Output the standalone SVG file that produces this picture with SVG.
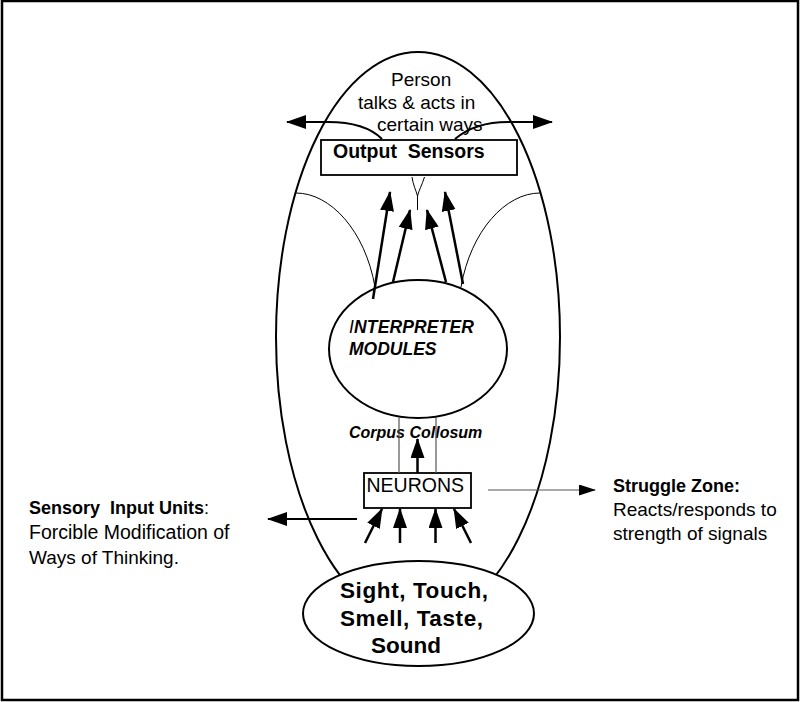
<svg xmlns="http://www.w3.org/2000/svg" width="800" height="702" viewBox="0 0 800 702">
<style>
text{font-family:"Liberation Sans",Arial,sans-serif;fill:#000}
.b{font-weight:bold}
.bi{font-weight:bold;font-style:italic}
.shape{fill:none;stroke:#000;stroke-width:2}
.thin{fill:none;stroke:#000;stroke-width:1}
.gray{fill:none;stroke:#555;stroke-width:1.2}
.arr{fill:none;stroke:#000;stroke-width:2.5}
</style>
<defs>
<marker id="hd" markerUnits="userSpaceOnUse" markerWidth="22" markerHeight="16" refX="19" refY="7" orient="auto"><path d="M0,0 L20,7 L0,14 z" fill="#000"/></marker>
<marker id="hs" markerUnits="userSpaceOnUse" markerWidth="20" markerHeight="14" refX="16" refY="5.5" orient="auto"><path d="M0,0 L17,5.5 L0,11 z" fill="#000"/></marker>
</defs>
<rect x="2" y="1" width="796" height="699" fill="#fff" stroke="#000" stroke-width="2.5"/>
<g id="person">
<ellipse cx="418" cy="337" rx="142" ry="285" class="shape"/>
<text x="391" y="86" font-size="19">Person</text>
<text x="358" y="109" font-size="19">talks &amp; acts in</text>
<text x="377" y="131" font-size="19">certain ways</text>
</g>
<g id="output-sensors">
<rect x="321" y="140" width="196" height="35" fill="#fff" stroke="#000" stroke-width="1.8"/>
<text x="333" y="158" font-size="19.5" class="b" xml:space="preserve">Output  Sensors</text>
</g>
<g id="interpreter">
<ellipse cx="418" cy="349" rx="89" ry="69" class="shape"/>
<text x="349" y="333" font-size="17.5" class="bi" textLength="125"><tspan font-weight="normal">I</tspan>NTERPRETER</text>
<text x="349" y="355" font-size="17.5" class="bi">MODULES</text>
</g>
<g id="neurons">
<rect x="364" y="473" width="107" height="35" fill="#fff" stroke="#000" stroke-width="1.8"/>
<text x="366.5" y="492" font-size="19.5">NEURONS</text>
</g>
<g id="senses">
<ellipse cx="418.5" cy="613.5" rx="115.5" ry="52.5" fill="#fff" stroke="#000" stroke-width="2"/>
<text x="340" y="598" font-size="22.5" class="b" textLength="148" lengthAdjust="spacing">Sight, Touch,</text>
<text x="340" y="626" font-size="22.5" class="b" textLength="143" lengthAdjust="spacing">Smell, Taste,</text>
<text x="371" y="653" font-size="22.5" class="b">Sound</text>
</g>
<g id="labels">
<text x="349" y="438" font-size="16" class="bi">Corpus Collosum</text>
<text x="29" y="514" font-size="18"><tspan class="b" xml:space="preserve">Sensory  Input Units</tspan>:</text>
<text x="29" y="539" font-size="19.5">Forcible Modification of</text>
<text x="29" y="564" font-size="19">Ways of Thinking.</text>
<text x="613" y="492" font-size="18" class="b">Struggle Zone:</text>
<text x="613" y="516" font-size="19">Reacts/responds to</text>
<text x="613" y="540" font-size="19">strength of signals</text>
</g>
<g id="connectors">
<path d="M382,139 C370,127 352,122 328,122 L287,122" class="shape" marker-end="url(#hd)"/>
<path d="M455,139 C468,128 484,122 508,122 L552,122" class="shape" marker-end="url(#hd)"/>
<path d="M412,177 C413,185 416,190 417.5,196 M424.5,177 C422,185 419,190 417.5,196 L417.5,210" class="thin"/>
<path d="M296,193 C330,193 365,230 375,287" class="thin"/>
<path d="M540,193 C506,193 471,230 461,287" class="thin"/>
<line x1="373" y1="299" x2="390" y2="192" class="arr" marker-end="url(#hd)"/>
<line x1="393" y1="282" x2="410" y2="210" class="arr" marker-end="url(#hd)"/>
<line x1="446" y1="282" x2="427" y2="210" class="arr" marker-end="url(#hd)"/>
<line x1="463" y1="284" x2="445" y2="192" class="arr" marker-end="url(#hd)"/>
<line x1="399" y1="418" x2="399" y2="473" class="gray"/>
<line x1="436" y1="418" x2="436" y2="473" class="gray"/>
<line x1="417.5" y1="473" x2="417.5" y2="439" class="arr" marker-end="url(#hd)"/>
<line x1="365" y1="543" x2="382" y2="509" class="arr" marker-end="url(#hd)"/>
<line x1="400" y1="543" x2="400" y2="509" class="arr" marker-end="url(#hd)"/>
<line x1="435.5" y1="543" x2="435.5" y2="509" class="arr" marker-end="url(#hd)"/>
<line x1="471" y1="543" x2="454" y2="509" class="arr" marker-end="url(#hd)"/>
<line x1="357" y1="519" x2="268" y2="519" class="shape" marker-end="url(#hd)"/>
<line x1="488" y1="490" x2="595" y2="490" class="gray" marker-end="url(#hs)"/>
</g>
</svg>
